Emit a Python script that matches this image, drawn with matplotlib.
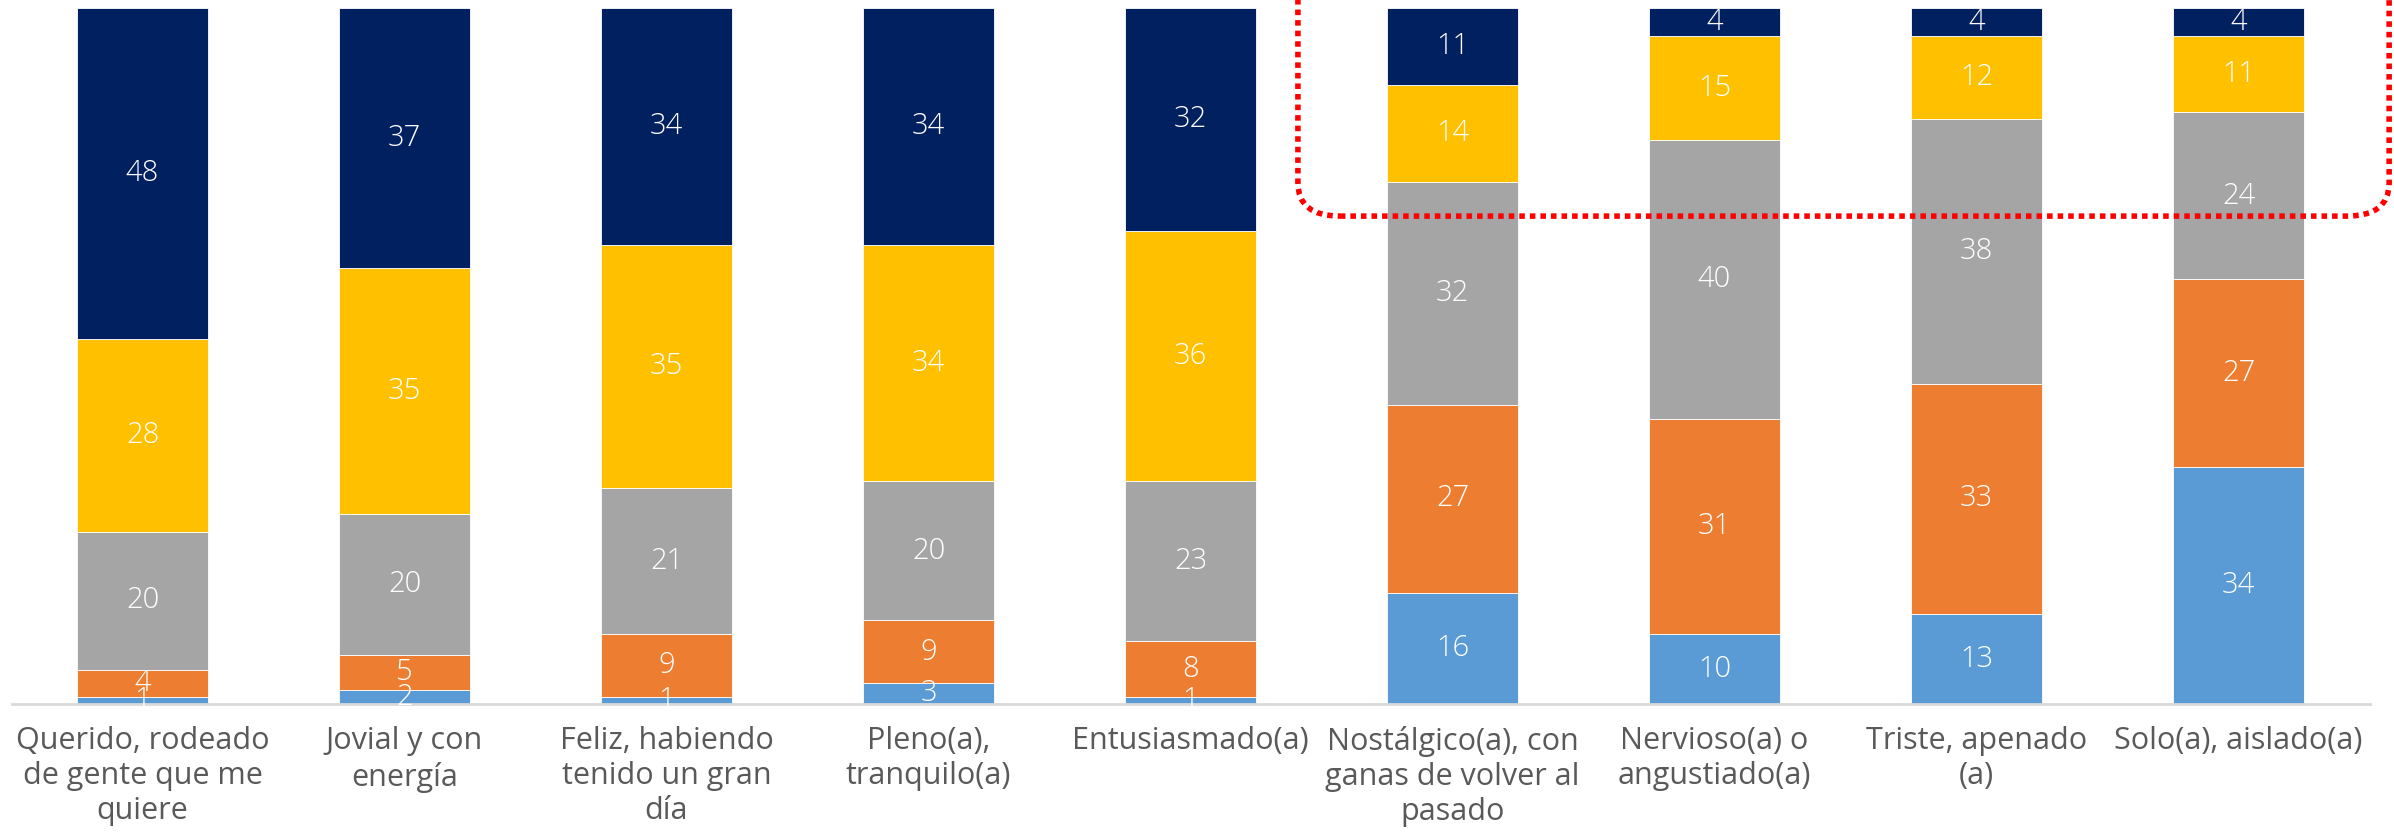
import matplotlib
matplotlib.use("Agg")
import matplotlib.pyplot as plt
import numpy as np
from matplotlib.patches import FancyBboxPatch

plt.rcParams["font.family"] = ["Open Sans", "DejaVu Sans"]

categories = [
    "Querido, rodeado\nde gente que me\nquiere",
    "Jovial y con\nenergía",
    "Feliz, habiendo\ntenido un gran\ndía",
    "Pleno(a),\ntranquilo(a)",
    "Entusiasmado(a)",
    "Nostálgico(a), con\nganas de volver al\npasado",
    "Nervioso(a) o\nangustiado(a)",
    "Triste, apenado\n(a)",
    "Solo(a), aislado(a)",
]

# segments stacked bottom -> top
s1 = [1, 2, 1, 3, 1, 16, 10, 13, 34]      # light blue
s2 = [4, 5, 9, 9, 8, 27, 31, 33, 27]      # orange
s3 = [20, 20, 21, 20, 23, 32, 40, 38, 24] # grey
s4 = [28, 35, 35, 34, 36, 14, 15, 12, 11] # yellow
s5 = [48, 37, 34, 34, 32, 11, 4, 4, 4]    # navy

series = [s1, s2, s3, s4, s5]
colors = ["#5B9BD5", "#ED7D31", "#A5A5A5", "#FFC000", "#002060"]

W, H = 2394, 832
fig = plt.figure(figsize=(W / 100, H / 100), dpi=100)
ax = fig.add_axes([11.5 / W, (H - 704) / H, (2369.5 - 11.5) / W, (704 - 8) / H])

vals = np.array(series, dtype=float)
pct = vals / vals.sum(axis=0) * 100  # 100% stacked
x = np.arange(len(categories))
bottom = np.zeros(len(categories))
for raw, p, c in zip(vals, pct, colors):
    ax.bar(x, p, 0.5, bottom=bottom, color=c, edgecolor="white", linewidth=0.6)
    for xi, b, h, v in zip(x, bottom, p, raw):
        ax.text(xi, b + h / 2, f"{v:.0f}", ha="center", va="center",
                color="white", fontsize=21, fontweight="light")
    bottom += p

ax.set_xlim(-0.5, len(categories) - 0.5)
ax.set_ylim(0, 100)
ax.set_yticks([])
ax.set_xticks(x)
ax.set_xticklabels(categories, fontsize=22, color="#595959", linespacing=1.22)
ax.tick_params(axis="x", length=0, pad=16)
for s in ["top", "right", "left"]:
    ax.spines[s].set_visible(False)
ax.spines["bottom"].set_color("#D9D9D9")
ax.spines["bottom"].set_linewidth(2)

# red dotted highlight around the top of the last four bars
box = FancyBboxPatch((4.41, 70.1), 8.575 - 4.41, 40,
                     boxstyle="round,pad=0,rounding_size=0.16",
                     mutation_aspect=30, fill=False, edgecolor="#FF0000",
                     linewidth=4, linestyle=(0, (1, 0.9)), clip_on=False)
ax.add_patch(box)

fig.savefig("out.png", dpi=100)
